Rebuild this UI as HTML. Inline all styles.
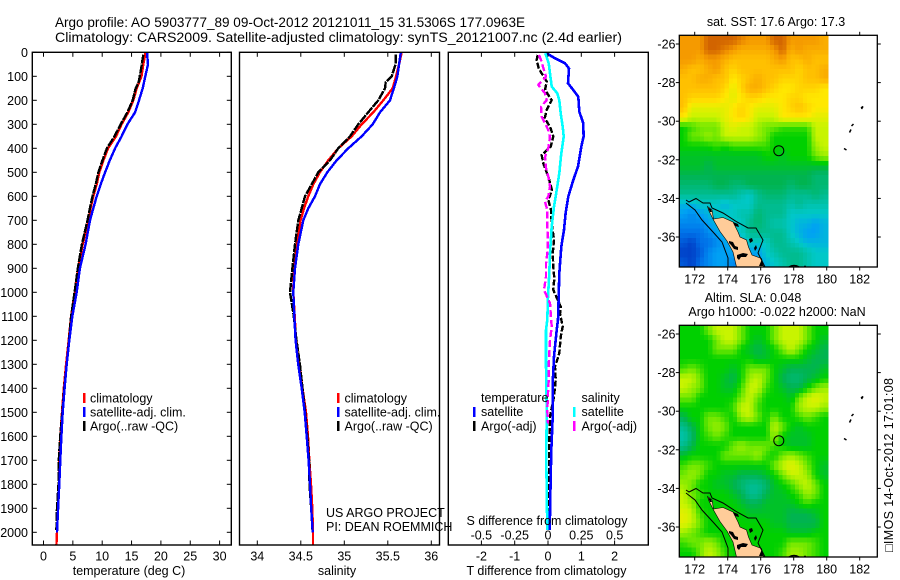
<!DOCTYPE html>
<html lang="en">
<head>
<meta charset="utf-8">
<title>Argo profile 5903777_89</title>
<style>
html,body{margin:0;padding:0;background:#fff;}
svg{display:block;font-family:"Liberation Sans",sans-serif;font-size:12.5px;fill:#000;}
</style>
</head>
<body>
<svg id="fig" width="900" height="580" viewBox="0 0 900 580">
  <rect width="900" height="580" fill="#fff"/>
  <text x="55" y="27" font-size="14" textLength="470" lengthAdjust="spacingAndGlyphs">Argo profile: AO 5903777_89 09-Oct-2012 20121011_15 31.5306S 177.0963E</text>
  <text x="55" y="42" font-size="14" textLength="567" lengthAdjust="spacingAndGlyphs">Climatology: CARS2009. Satellite-adjusted climatology: synTS_20121007.nc (2.4d earlier)</text>

  <g id="layer-maps"></g>
  <g id="layer-panels"></g>

  <g>
    <rect x="83" y="393" width="2.5" height="10" fill="#f00"/>
    <text x="90" y="402.5">climatology</text>
    <rect x="83" y="407" width="2.5" height="10" fill="#00f"/>
    <text x="90" y="416.5">satellite-adj. clim.</text>
    <rect x="83" y="421" width="2.5" height="10" fill="#000"/>
    <text x="90" y="430.5">Argo(..raw -QC)</text>
  </g>
  <g>
    <rect x="337" y="393" width="2.5" height="10" fill="#f00"/>
    <text x="344.5" y="402.5">climatology</text>
    <rect x="337" y="407" width="2.5" height="10" fill="#00f"/>
    <text x="344.5" y="416.5">satellite-adj. clim.</text>
    <rect x="337" y="421" width="2.5" height="10" fill="#000"/>
    <text x="344.5" y="430.5">Argo(..raw -QC)</text>
  </g>
  <g>
    <text x="481" y="402">temperature</text>
    <rect x="473" y="407" width="2.5" height="10" fill="#00f"/>
    <text x="481" y="416">satellite</text>
    <rect x="473" y="421" width="2.5" height="10" fill="#000"/>
    <text x="481" y="430.5">Argo(-adj)</text>
    <text x="581.5" y="402">salinity</text>
    <rect x="573" y="407" width="2.5" height="10" fill="#0ff"/>
    <text x="581.5" y="416">satellite</text>
    <rect x="573" y="421" width="2.5" height="10" fill="#f0f"/>
    <text x="581.5" y="430.5">Argo(-adj)</text>
  </g>

  <text x="326" y="517">US ARGO PROJECT</text>
  <text x="326" y="531">PI: DEAN ROEMMICH</text>

  <text x="129" y="575" text-anchor="middle">temperature (deg C)</text>
  <text x="337" y="575" text-anchor="middle">salinity</text>
  <text x="547" y="525" text-anchor="middle">S difference from climatology</text>
  <text x="546.5" y="575" text-anchor="middle">T difference from climatology</text>

  <text x="776" y="26" text-anchor="middle">sat. SST: 17.6 Argo: 17.3</text>
  <text x="753" y="302" text-anchor="middle">Altim. SLA: 0.048</text>
  <text x="777" y="316" text-anchor="middle">Argo h1000: -0.022 h2000: NaN</text>
  <text transform="translate(893,552) rotate(-90)" textLength="174" lengthAdjust="spacing">□IMOS 14-Oct-2012 17:01:08</text>
</svg>

<script>
// ---------- profile data ----------
const depths = [0,50,100,150,200,250,300,350,400,450,500,550,600,650,700,800,900,1000,1100,1200,1300,1400,1500,1600,1700,1800,1900,2000,2055];
const climTemp = [17.4,17.0,16.7,15.87,15.3,14.45,13.3,12.35,11.0,10.2,9.5,9.06,8.49,8.03,7.64,6.67,5.93,5.36,4.7,4.3,3.85,3.45,3.15,2.87,2.64,2.64,2.48,2.3,2.2];
const satTemp = [17.63,17.8,17.35,16.9,16.27,15.6,14.3,13.3,12.2,11.3,10.5,9.74,9.06,8.49,7.92,7.18,6.2,5.65,4.9,4.4,3.95,3.6,3.27,3.05,2.87,2.7,2.48,2.3];
const climSal = [35.66,35.63,35.595,35.556,35.448,35.333,35.2,35.085,34.931,34.816,34.72,34.644,34.586,34.537,34.498,34.452,34.42,34.414,34.43,34.445,34.48,34.52,34.56,34.583,34.598,34.617,34.632,34.64,34.64];
const satSal = [35.65,35.63,35.61,35.57,35.525,35.41,35.327,35.2,35.046,34.913,34.805,34.72,34.663,34.586,34.529,34.471,34.433,34.414,34.425,34.44,34.47,34.51,34.545,34.568,34.59,34.606,34.62,34.637];
const argoDepths = [10,50,100,125,150,200,250,300,350,400,450,500,550,600,650,700,800,900,1000,1100,1200,1300,1400,1500,1600,1700,1800,1900,1990];
const argoTemp = [17.0,16.75,16.4,16.2,15.7,15.2,14.3,13.15,12.1,10.8,10.05,9.35,8.9,8.35,7.9,7.5,6.55,5.85,5.3,4.7,4.35,3.95,3.55,3.2,2.85,2.6,2.55,2.3,2.2];
const argoSal = [35.59,35.59,35.545,35.476,35.468,35.391,35.275,35.161,35.066,34.931,34.836,34.701,34.625,34.548,34.51,34.471,34.433,34.403,34.376,34.42,34.45,34.49,34.52,34.55,34.575,34.595,34.6,34.62,34.635];

// ---------- difference data ----------
const satTDiffDepths = [4,25,46,67,129,157,185,247,296,351,393,476,532,601,671,740,810,921,1018,1115,1157,1268,1380,1518,1657,1768,1991];
const satTDiff = [-0.04,0.21,0.51,0.63,0.6,0.76,0.91,0.94,1.06,1.07,1.0,0.9,0.76,0.61,0.53,0.48,0.4,0.34,0.32,0.30,0.26,0.18,0.14,0.14,0.10,0.08,0.05];
const satSDiffDepths = [4,46,88,143,171,199,254,310,351,421,504,574,643,726,838,921,1018,1115,1157,1300,1500,1700,1991];
const satSDiff = [-0.02,0.005,0.015,0.0275,0.07,0.085,0.095,0.11,0.1175,0.1,0.085,0.065,0.045,0.0275,0.015,0.01,0,-0.005,-0.015,-0.015,-0.01,-0.0125,-0.005];
const argoTDiffDepths = [11,32,67,122,157,199,240,275,310,351,393,428,463,518,574,615,657,713,782,838,893,942,990,1060,1088,1143,1185,1254,1310,1365,1435,1518,1657,1796,1991];
const argoTDiff = [-0.31,-0.34,-0.28,-0.04,-0.09,0.11,-0.04,-0.1,0.06,0.16,0.08,-0.19,-0.14,0.01,0.12,0.01,0.09,0.11,0.18,0.14,0.16,0.19,0.16,0.38,0.36,0.44,0.38,0.34,0.21,0.23,0.18,0.06,0.03,0.03,0.02];
const argoSDiffDepths = [11,32,74,102,136,171,199,227,268,296,324,352,400,435,483,518,560,601,622,657,713,768,824,879,935,990,1046,1088,1143,1199,1254,1310,1365,1421,1490,1546];
const argoSDiff = [-0.0675,-0.0525,-0.03,-0.015,-0.0725,-0.0225,-0.01,-0.0525,-0.0475,-0.0225,0.0025,0.015,0.0025,-0.0225,-0.015,0.0025,0.015,0.0025,-0.0225,-0.005,-0.005,-0.0025,-0.0025,-0.015,-0.015,-0.03,0.015,0.02,0.0275,0.015,0.01,0.005,0.005,0,-0.005,0];

// ---------- tick labels ----------
const depthTicks = [0,100,200,300,400,500,600,700,800,900,1000,1100,1200,1300,1400,1500,1600,1700,1800,1900,2000];
const tempTicks = [0,5,10,15,20,25,30];
const salTicks = ['34','34.5','35','35.5','36'];
const tDiffTicks = [-2,-1,0,1,2];
const sDiffTicks = ['-0.5','-0.25','0','0.25','0.5'];
const lonTicks = [172,174,176,178,180,182];
const latTicks = [-26,-28,-30,-32,-34,-36];

// ---------- map grids (18 columns x 24 rows, colour-scale level) ----------
const sstGrid = [
[11,11,11,12,12,12,12,11.5,11,11,11,12,12,11,11,11,11,10.5],
[11,11,11,12,12,11.5,11,10.5,10.5,10.5,10.5,11,12,10.5,11,10.5,10.5,10.5],
[11,11,10.5,11,11,10.5,10,10,10,10,10,10.5,11,10,10,10.5,10,10],
[10.5,10,10,10.5,11,10,9.5,10,10,10,10,10,10,10,9.5,10,10,10.5],
[10,10,10.5,10.5,10,10,9,9.5,10,10.5,10,10,9.5,9.5,9.5,10,10,10.5],
[10,10,10,10,10,9.5,8.5,9.5,10.5,10.5,10,9.5,9,9,9.5,9.5,9.5,9],
[10,9.5,9.5,9.5,9.5,9,8.5,9,9.5,9.5,9,9,9,9.5,9.5,9,9,9],
[10,8.5,8.5,8.5,8.5,8.5,9,9.5,9,8.5,8.5,8.5,9,9.5,10,9.5,9,9],
[9,8,8,8,8,8.5,9,9.5,9,8,8,8,9,9,9,9,8.5,8.5],
[6,6.5,7,7,7,8,8.5,8,8,7.5,7,7,6.5,6.5,6.5,6.5,8,8],
[6,7,7,7.5,7,8,8,8,8,7.5,7,6,6,6,6,6,8,8],
[6,6,6,6,6.5,6,6.5,6.5,6.5,6.5,6.5,6,6,6,6,6,7.5,8],
[5.5,5.5,5.5,5.5,5.5,5.5,5.5,5.5,5.5,5.5,6,6,5.5,6,6,6,7,7.5],
[5.5,5.5,5.5,5,5.5,5.5,5.5,5.5,5.5,5.5,5.5,5.5,5.5,5.5,5.5,5.5,5.5,5.5],
[5,5,5,5,5,5,5,5,5,5,5,5,5,5,5,5,4.5,4.5],
[4.5,4.5,4.5,4.5,5,5,4.5,4.5,5,5,5,5,5,4.5,5,5,4.5,4.5],
[4,4,4,4,4,4,4,3.5,3,4,4.5,4.5,4.5,4,4,4,4.5,4],
[2.5,2.5,3,3,3,2.5,3,3,3,4,4,4,4,3.5,4,3.5,3.5,3.5],
[2,1.5,2,2.5,3,3,3,3.5,3.5,4.5,4,4,4,3,3,3,3,3],
[1.5,1.5,1.5,2,2.5,3,3,3,4,4.5,4,3.5,3.5,3,2.5,2.5,2,2.5],
[1,1,1,1.5,2,2.5,3,3,4,4,4,4,4,3,2.5,2,2,2.5],
[0.5,0,1,1,1.5,2,2.5,2,3,3,3,4,4,3.5,3,2.5,2.5,2.5],
[0,0,0.5,1.5,2,2,2,2,2,2,3,3.5,4,4,4,3.5,3,3],
[0.5,0,1,1.5,2,2,1.5,1.5,2,2,2.5,3,3.5,4,4,3.5,3,3]
];
const slaGrid = [
[6,6,6,7,8,8,8,7,6,6,6,7,8,8,8,7,6,6],
[6,6,6,6,7,8,8,7,6,5.5,6,7,8,8,8,7,6,5.5],
[6,6,6,6,7,7,7,6,5.5,5,5.5,6,7,8,7,6,5.5,5],
[6,6,6,6,6,6,6,6,6,5.5,5.5,6,6,6,6,5.5,5,5],
[6.5,7,6.5,6,6,6,5.5,6,7,7,7,6,5.5,5,5,5,5,5.5],
[8,8,7,6,6,5.5,5,6,7.5,8,7,6,5,4.5,4.5,5,5.5,6],
[8,7.5,7,6,6,5.5,5.5,6.5,8,8,6.5,6,5.5,5,5,6,7,7.5],
[7,7,6,6,6,6,6,7,8,7,6,6,6,5.5,7,8,8.5,8],
[6,6,6,6,6,6,6.5,8,8,6.5,6,6,6,6,7.5,8,8,7.5],
[5,6,6,7,7,6.5,6,7.5,8,7,6,7,6,6,6.5,7,6.5,6],
[4,5,6,7,7.5,7,6,6,6,6,6,8,7,6,5.5,6,6,6],
[3.5,4.5,6,6.5,7,6.5,6,6,6,6,6,7.5,6,5.5,5.5,5.5,6,6],
[4,5,6,6,6,6,7,7.5,7,7,7,6.5,6,5.5,5.5,5.5,6,6],
[5.5,6,6,6,6,7,7,7,7,7.5,6.5,6,7,7.5,7,6.5,6,6],
[6.5,7,7,6.5,6,6,6,6,6,6,6,7,8,8.5,8,7,6,5.5],
[7,7.5,7,6,6,5.5,5.5,5,5,5,5.5,6,7,8,8,7.5,6,5.5],
[7.5,7,6,6,5.5,5.5,5,4.5,4,4,4.5,5.5,6,6.5,7.5,8,7,6],
[8,7,6.5,6,6,6,5.5,5,4,4,5,5.5,5.5,6,6.5,7.5,7,6],
[8,7.5,6,6,6,6,6,5.5,5,5,5.5,5.5,5.5,5.5,6,6.5,6,6],
[8.5,8,6.5,6,6,6,6,6,5.5,5.5,5.5,5.5,5.5,5,5,5,5.5,6],
[8.5,8,7,6,6,6,6,6,6,6,6,5.5,5.5,5,5,5,5,6],
[7.5,7,6.5,6,6,6,6,6,6,6,6,6,6,5.5,5.5,5.5,6,6],
[6.5,7,7,7.5,7,6,6,6,6,6,6,6,6,7,7,7,6.5,6],
[6,6,7,8,7.5,6.5,6,6,6,6,6,6,6.5,7.5,7.5,7,6.5,6]
];
const colourStops = ['#0040c8','#0070e8','#00a0f4','#00c8c8','#00bc90','#00b450','#00d000','#70e800','#c8f400','#ffe800','#ffc000','#f59a00','#d26400'];

const NS = 'http://www.w3.org/2000/svg';
const panelsLayer = document.getElementById('layer-panels');
const mapsLayer = document.getElementById('layer-maps');

function node(tag, parent, attrs, txt) {
  const el = document.createElementNS(NS, tag);
  for (const k in attrs) el.setAttribute(k, attrs[k]);
  if (txt !== undefined) el.textContent = txt;
  parent.appendChild(el);
  return el;
}

// ---------- axis functions ----------
const PANEL_TOP = 52.3, PANEL_BOTTOM = 545;
const yDepth = d => PANEL_TOP + 0.24 * d;
const xTemp = t => 43.5 + 5.87 * t;
const xSal = s => 257.3 + 87 * (s - 34);
const xTDiff = t => 548 + 33.3 * t;
const xSDiff = s => 548 + 133.3 * s;
const xLon = lon => 694.7 + 16.5 * (lon - 172);
const yLat = (top, lat) => top + 8.7 + 19.3 * (lat - 26);

function drawLine(parent, xs, ds, xFn, colour, width, dash, name) {
  const n = Math.min(xs.length, ds.length);
  const pts = [];
  for (let i = 0; i < n; i++) pts.push(xFn(xs[i]).toFixed(1) + ',' + yDepth(ds[i]).toFixed(1));
  const p = node('polyline', parent, {points: pts.join(' '), fill: 'none', stroke: colour, 'stroke-width': width, 'shape-rendering': 'crispEdges'});
  if (dash) p.setAttribute('stroke-dasharray', dash);
  
  
}

function drawFrame(parent, x0, x1, name) {
  const f = node('rect', parent, {x: x0, y: PANEL_TOP, width: x1 - x0, height: PANEL_BOTTOM - PANEL_TOP, fill: 'none', stroke: '#000', 'stroke-width': 1.4});
  
  
}

function xTick(parent, x, labelY, label, ticksTopBottom, name) {
  if (ticksTopBottom) {
    const a = node('line', parent, {x1: x, x2: x, y1: PANEL_TOP, y2: PANEL_TOP + 4.5, stroke: '#000', 'stroke-width': 1});
    
    
    const b = node('line', parent, {x1: x, x2: x, y1: PANEL_BOTTOM, y2: PANEL_BOTTOM - 4.5, stroke: '#000', 'stroke-width': 1});
    
    
  }
  const t = node('text', parent, {x: x, y: labelY, 'text-anchor': 'middle'}, label);
  
  
}

// ---------- temperature panel ----------
const panelT = node('g', panelsLayer, {});


drawLine(panelT, climTemp, depths, xTemp, '#f00', 2.4, null, 'temperature-climatology-line');
drawLine(panelT, argoTemp, argoDepths, xTemp, '#000', 2.4, '9 1', 'temperature-argo-line');
drawLine(panelT, satTemp, depths, xTemp, '#00f', 2.4, null, 'temperature-satellite-line');
drawFrame(panelT, 32.3, 231.3, 'temperature-panel-frame');
depthTicks.forEach(d => {
  const y = yDepth(d);
  const a = node('line', panelT, {x1: 32.3, x2: 36.8, y1: y, y2: y, stroke: '#000', 'stroke-width': 1});
  
  
  const b = node('line', panelT, {x1: 231.3, x2: 226.8, y1: y, y2: y, stroke: '#000', 'stroke-width': 1});
  
  
  const t = node('text', panelT, {x: 28, y: y + 4.5, 'text-anchor': 'end'}, String(d));
  
  
});
tempTicks.forEach(v => xTick(panelT, xTemp(v), 560.5, String(v), true, 'temperature'));

// ---------- salinity panel ----------
const panelS = node('g', panelsLayer, {});


drawLine(panelS, climSal, depths, xSal, '#f00', 2.4, null, 'salinity-climatology-line');
drawLine(panelS, argoSal, argoDepths, xSal, '#000', 2.4, '9 1', 'salinity-argo-line');
drawLine(panelS, satSal, depths, xSal, '#00f', 2.4, null, 'salinity-satellite-line');
drawFrame(panelS, 239.5, 439.5, 'salinity-panel-frame');
salTicks.forEach(v => xTick(panelS, xSal(parseFloat(v)), 560.5, v, true, 'salinity'));

// ---------- difference panel ----------
const panelD = node('g', panelsLayer, {});


drawLine(panelD, argoTDiff, argoTDiffDepths, xTDiff, '#000', 2.4, '6 2', 'argo-temperature-difference-line');
drawLine(panelD, satTDiff, satTDiffDepths, xTDiff, '#00f', 2.6, null, 'satellite-temperature-difference-line');
drawLine(panelD, satSDiff, satSDiffDepths, xSDiff, '#0ff', 2.6, null, 'satellite-salinity-difference-line');
drawLine(panelD, argoSDiff, argoSDiffDepths, xSDiff, '#f0f', 2.4, '7 3', 'argo-salinity-difference-line');
drawFrame(panelD, 448.3, 648.3, 'difference-panel-frame');
tDiffTicks.forEach(v => xTick(panelD, xTDiff(v), 560.5, String(v), true, 'temperature-difference'));
sDiffTicks.forEach(v => xTick(panelD, xSDiff(parseFloat(v)), 539.5, v, false, 'salinity-difference'));

// ---------- maps ----------
function colourFor(v) {
  const i = Math.max(0, Math.min(colourStops.length - 1.001, v));
  const lo = Math.floor(i), f = i - lo;
  const a = colourStops[lo], b = colourStops[lo + 1];
  const ch = k => Math.round(parseInt(a.substr(k, 2), 16) * (1 - f) + parseInt(b.substr(k, 2), 16) * f);
  return 'rgb(' + ch(1) + ',' + ch(3) + ',' + ch(5) + ')';
}

// samples the grid between its cells, so each drawn cell stays a function of the array
function sampleGrid(grid, gr, gc) {
  const r = Math.max(0, Math.min(grid.length - 1, gr));
  const c = Math.max(0, Math.min(grid[0].length - 1, gc));
  const r0 = Math.floor(r), c0 = Math.floor(c);
  const r1 = Math.min(grid.length - 1, r0 + 1), c1 = Math.min(grid[0].length - 1, c0 + 1);
  const fr = r - r0, fc = c - c0;
  return (grid[r0][c0] * (1 - fc) + grid[r0][c1] * fc) * (1 - fr) + (grid[r1][c0] * (1 - fc) + grid[r1][c1] * fc) * fr;
}

function drawMap(grid, top, name) {
  const bottom = top + 231.7;
  const g = node('g', mapsLayer, {});
  
  
  const lon0 = 171.07, latTop = 25.55, step = 0.25;
  const rows = grid.length * 2, cols = grid[0].length * 2;
  for (let r = 0; r < rows; r++) {
    for (let c = 0; c < cols; c++) {
      const v = sampleGrid(grid, (r - 0.5) / 2, (c - 0.5) / 2);
      const x0 = xLon(lon0 + c * step), x1 = xLon(lon0 + (c + 1) * step);
      const y0 = yLat(top, latTop + r * step), y1 = yLat(top, latTop + (r + 1) * step);
      const cell = node('rect', g, {x: x0.toFixed(2), y: y0.toFixed(2), width: (x1 - x0 + 0.4).toFixed(2), height: (y1 - y0 + 0.4).toFixed(2), fill: colourFor(v), 'shape-rendering': 'crispEdges'});
      
      
    }
  }
  const dy = top - 35.3;
  const coast = node('g', g, {transform: 'translate(0,' + dy + ')'});
  
  
  const land = node('path', coast, {fill: '#ffcc99', stroke: '#000', 'stroke-width': 0.6, d: 'M707.5 206.5L712 210L713.5 219L723 217.5L733 222L738 232L740 237L746.5 240L748.5 247L752 255L761.5 258.5L763.5 267L736.5 267L733 252L727 241L720 231.5L713.5 220L709 211Z'});
  
  
  const blobs = node('path', coast, {fill: '#000', d: 'M708 208l3 1l1 3l-2 0zM733 222l5 2l1 3l-4 -1zM729 241l4 1l2 4l3 1l0 3l-4 -1l-3 -4l-2 -2zM737 255l6 -2l5 1l-2 3l-5 0l-2 3l-2 -2zM749 239l3 -1l1 3l-3 2zM756 245l1 3l-2 3l-1 -3zM759 266l3 -7l1 7z'});
  
  
  const iso1 = node('path', coast, {fill: 'none', stroke: '#000', 'stroke-width': 1, d: 'M686 200L689 202L696 198.5L703 203L710 203L712 208L723 213L737 222L748 228L756 228L763 240L758 253L765 267'});
  
  
  const iso2 = node('path', coast, {fill: 'none', stroke: '#000', 'stroke-width': 1, d: 'M686 203L695 210L702 220L713 232L722 242L728 258L728 267'});
  
  
  const bits = node('path', coast, {fill: 'none', stroke: '#000', 'stroke-width': 1.5, d: 'M789 267Q794 264 799 267M804 266.5L806 266.5M861 108L863 106.5L861.5 109M851.5 126L853.5 124M849.5 132.5L851 129.5M844 148.5L846.5 150'});
  
  
  const marker = node('circle', g, {cx: xLon(177.0963).toFixed(1), cy: yLat(top, 31.5306).toFixed(1), r: 5, fill: 'none', stroke: '#000', 'stroke-width': 1});
  
  
  const frame = node('rect', g, {x: 679.3, y: top, width: 198, height: 231.7, fill: 'none', stroke: '#000', 'stroke-width': 1.3});
  
  
  lonTicks.forEach(l => {
    const x = xLon(l);
    const a = node('line', g, {x1: x, x2: x, y1: top, y2: top - 3.5, stroke: '#000', 'stroke-width': 1});
    
    
    const b = node('line', g, {x1: x, x2: x, y1: bottom, y2: bottom + 3.5, stroke: '#000', 'stroke-width': 1});
    
    
    const t = node('text', g, {x: x, y: bottom + 16.5, 'text-anchor': 'middle'}, String(l));
    
    
  });
  latTicks.forEach(l => {
    const y = yLat(top, -l);
    const a = node('line', g, {x1: 679.3, x2: 675.8, y1: y, y2: y, stroke: '#000', 'stroke-width': 1});
    
    
    const b = node('line', g, {x1: 877.3, x2: 880.8, y1: y, y2: y, stroke: '#000', 'stroke-width': 1});
    
    
    const t = node('text', g, {x: 675.5, y: y + 4.5, 'text-anchor': 'end'}, String(l));
    
    
  });
}
drawMap(sstGrid, 35.3, 'sst-map');
drawMap(slaGrid, 325.3, 'sla-map');
</script>
</body>
</html>
